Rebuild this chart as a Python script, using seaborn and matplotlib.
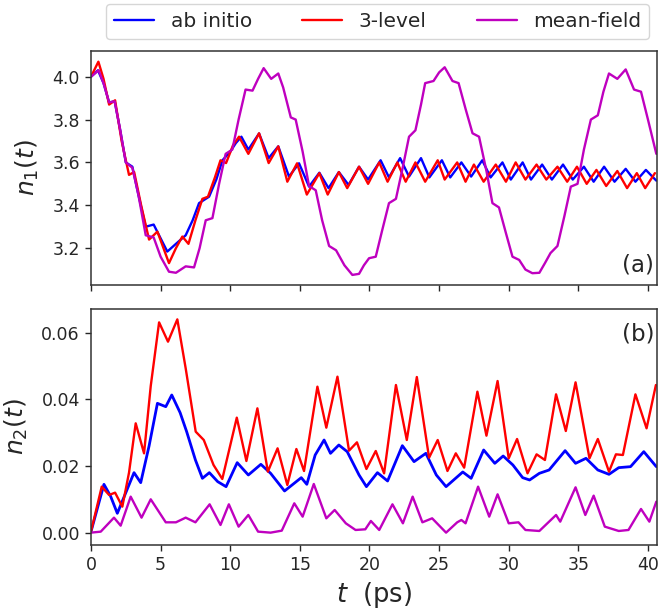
import matplotlib
matplotlib.use("Agg")
import matplotlib.pyplot as plt
import seaborn as sns

# ---- n1(t): ground-state population ----
t_n1_ab = [0.0, 0.5, 0.9, 1.3, 1.7, 2.1, 2.5, 2.97, 3.4, 3.93, 4.5, 5.48, 6.1, 6.8, 7.3,
           7.76, 8.48, 9.0, 9.44, 10.0, 10.4, 10.8, 11.3, 12.07, 12.76, 13.45, 14.22, 14.94,
           15.66, 16.4, 17.06, 17.8, 18.5, 19.25, 19.9, 20.8, 21.4, 22.2, 22.84, 23.7, 24.3,
           25.2, 25.8, 26.6, 27.3, 28.1, 28.7, 29.55, 30.15, 31.0, 31.6, 32.4, 33.1, 33.9,
           34.6, 35.4, 36.1, 36.85, 37.6, 38.4, 39.1, 39.85, 40.6]
n1_ab = [4.00, 4.03, 3.97, 3.88, 3.885, 3.75, 3.60, 3.58, 3.45, 3.30, 3.31, 3.184, 3.22, 3.26,
         3.33, 3.41, 3.44, 3.52, 3.61, 3.65, 3.69, 3.72, 3.66, 3.735, 3.62, 3.675, 3.534, 3.596,
         3.487, 3.552, 3.48, 3.555, 3.495, 3.58, 3.52, 3.61, 3.53, 3.62, 3.534, 3.62, 3.53,
         3.61, 3.53, 3.60, 3.534, 3.61, 3.53, 3.60, 3.52, 3.60, 3.52, 3.59, 3.52, 3.59,
         3.52, 3.58, 3.51, 3.58, 3.51, 3.57, 3.51, 3.565, 3.515]

t_n1_3l = [0.0, 0.53, 0.9, 1.3, 1.73, 2.2, 2.73, 3.1, 3.6, 4.17, 4.77, 5.6, 6.1, 6.56, 7.0,
           7.5, 8.0, 8.4, 8.9, 9.3, 9.7, 10.2, 10.63, 11.3, 12.07, 12.76, 13.45, 14.1, 14.8,
           15.5, 16.4, 17.0, 17.8, 18.4, 19.25, 19.9, 20.7, 21.3, 22.0, 22.6, 23.3, 24.0,
           24.9, 25.4, 26.3, 26.9, 27.5, 28.2, 29.07, 29.8, 30.5, 31.2, 32.0, 32.7, 33.5,
           34.2, 34.9, 35.6, 36.3, 37.0, 37.8, 38.5, 39.2, 39.8, 40.5]
n1_3l = [4.00, 4.07, 3.99, 3.87, 3.89, 3.70, 3.542, 3.555, 3.40, 3.24, 3.277, 3.13, 3.20, 3.254,
         3.22, 3.33, 3.43, 3.44, 3.53, 3.61, 3.597, 3.68, 3.72, 3.64, 3.736, 3.597, 3.675,
         3.51, 3.596, 3.45, 3.55, 3.45, 3.555, 3.48, 3.58, 3.50, 3.60, 3.51, 3.60, 3.51,
         3.60, 3.51, 3.61, 3.52, 3.60, 3.51, 3.59, 3.51, 3.59, 3.51, 3.60, 3.52, 3.59, 3.52,
         3.58, 3.51, 3.58, 3.50, 3.565, 3.49, 3.56, 3.48, 3.55, 3.48, 3.55]

t_n1_mf = [0.0, 0.55, 0.9, 1.3, 1.7, 2.1, 2.5, 2.97, 3.4, 3.93, 4.5, 5.0, 5.6, 6.1, 6.8, 7.4,
           7.8, 8.24, 8.72, 9.2, 9.67, 10.15, 10.6, 11.1, 11.6, 12.0, 12.4, 12.94, 13.45, 13.8,
           14.35, 14.7, 15.2, 15.66, 16.14, 16.6, 17.1, 17.6, 18.2, 18.77, 19.25, 19.6, 19.97,
           20.45, 20.9, 21.4, 21.9, 22.4, 22.84, 23.3, 23.7, 24.0, 24.6, 25.0, 25.4, 25.96,
           26.4, 26.9, 27.4, 27.87, 28.4, 28.83, 29.3, 29.8, 30.27, 30.75, 31.2, 31.7, 32.2,
           32.6, 33.0, 33.5, 34.0, 34.46, 34.94, 35.4, 35.9, 36.4, 36.8, 37.2, 37.8, 38.4,
           39.0, 39.5, 40.0, 40.6]
n1_mf = [4.00, 4.03, 3.97, 3.88, 3.885, 3.75, 3.60, 3.575, 3.45, 3.26, 3.25, 3.16, 3.09, 3.085,
         3.115, 3.11, 3.20, 3.33, 3.34, 3.50, 3.64, 3.66, 3.80, 3.94, 3.935, 3.99, 4.04, 3.99,
         4.015, 3.95, 3.81, 3.80, 3.65, 3.49, 3.47, 3.33, 3.21, 3.19, 3.12, 3.075, 3.08, 3.12,
         3.153, 3.16, 3.28, 3.41, 3.43, 3.58, 3.72, 3.75, 3.87, 3.97, 3.98, 4.02, 4.044, 3.98,
         3.97, 3.85, 3.736, 3.72, 3.56, 3.41, 3.39, 3.27, 3.16, 3.145, 3.10, 3.083, 3.085,
         3.13, 3.177, 3.21, 3.35, 3.487, 3.50, 3.66, 3.80, 3.82, 3.93, 4.015, 3.99, 4.034,
         3.94, 3.93, 3.80, 3.64]

# ---- n2(t): excited-state population ----
t_n2_ab = [0.0, 0.93, 1.4, 1.89, 2.5, 3.09, 3.57, 4.17, 4.77, 5.37, 5.8, 6.4, 6.87, 7.5, 8.0,
           8.5, 9.1, 9.7, 10.5, 11.3, 12.2, 12.9, 13.9, 14.5, 15.1, 15.5, 16.1, 16.74, 17.2,
           17.8, 18.4, 19.25, 19.78, 20.57, 21.3, 22.36, 23.2, 24.05, 24.8, 25.5, 26.7, 27.3,
           28.2, 29.0, 29.6, 30.3, 31.0, 31.5, 32.2, 32.9, 34.05, 34.8, 35.55, 36.4, 37.2,
           37.9, 38.75, 39.7, 40.6]
n2_ab = [0.0003, 0.0145, 0.011, 0.0058, 0.012, 0.018, 0.015, 0.026, 0.0388, 0.0378, 0.0413,
         0.036, 0.0303, 0.0218, 0.0163, 0.018, 0.0153, 0.0138, 0.021, 0.0173, 0.0205, 0.0178,
         0.0125, 0.0145, 0.0165, 0.0145, 0.0233, 0.0278, 0.0238, 0.0263, 0.0243, 0.0173,
         0.0138, 0.018, 0.0155, 0.0261, 0.0213, 0.0238, 0.0173, 0.0138, 0.0182, 0.0163,
         0.0248, 0.0208, 0.023, 0.0203, 0.0165, 0.0158, 0.0178, 0.0188, 0.0246, 0.0208,
         0.0223, 0.0188, 0.0175, 0.0195, 0.0198, 0.0243, 0.0198]

t_n2_3l = [0.0, 0.77, 1.3, 1.73, 2.25, 2.73, 3.21, 3.81, 4.29, 4.89, 5.53, 6.2, 6.8, 7.52, 8.1,
           8.8, 9.43, 10.47, 11.16, 11.95, 12.7, 13.4, 14.1, 14.75, 15.3, 16.26, 16.9, 17.7,
           18.53, 19.1, 19.78, 20.45, 21.05, 21.9, 22.68, 23.4, 24.28, 24.9, 25.6, 26.2, 26.8,
           27.75, 28.4, 29.2, 30.0, 30.6, 31.35, 32.0, 32.6, 33.4, 34.1, 34.8, 35.8, 36.4,
           37.2, 37.7, 38.2, 39.1, 39.9, 40.57]
n2_3l = [0.0003, 0.0138, 0.0113, 0.012, 0.0078, 0.018, 0.0328, 0.0238, 0.044, 0.0631, 0.0573,
         0.064, 0.0493, 0.0303, 0.0278, 0.0203, 0.0161, 0.0345, 0.0215, 0.0373, 0.0183,
         0.0253, 0.0143, 0.0251, 0.0185, 0.0438, 0.0315, 0.0468, 0.0246, 0.0271, 0.0191,
         0.0245, 0.0178, 0.0443, 0.0278, 0.0467, 0.0225, 0.0278, 0.0185, 0.0238, 0.0195,
         0.0423, 0.0291, 0.0455, 0.0223, 0.0281, 0.0178, 0.0235, 0.0218, 0.0415, 0.0305,
         0.0451, 0.0223, 0.0281, 0.0183, 0.0235, 0.0233, 0.0415, 0.0313, 0.0443]

t_n2_mf = [0.0, 0.7, 1.65, 2.13, 2.85, 3.63, 4.29, 5.37, 6.1, 6.8, 7.5, 8.52, 9.3, 9.9, 10.6,
           11.3, 12.0, 12.9, 13.7, 14.6, 15.2, 16.0, 16.9, 17.5, 18.3, 19.0, 19.7, 20.1, 20.7,
           21.65, 22.4, 23.1, 23.8, 24.5, 25.5, 26.3, 26.6, 26.9, 27.8, 28.6, 29.2, 30.0, 30.7,
           31.2, 32.2, 33.4, 33.7, 34.8, 35.5, 36.1, 36.9, 37.9, 38.6, 39.5, 40.1, 40.6]
n2_mf = [0.0, 0.0003, 0.0045, 0.0021, 0.0108, 0.0045, 0.010, 0.0031, 0.0031, 0.0045, 0.0031,
         0.0085, 0.0023, 0.0085, 0.0018, 0.0053, 0.0003, 0.0, 0.0006, 0.0088, 0.0048, 0.0146,
         0.0043, 0.0068, 0.0028, 0.0008, 0.001, 0.0035, 0.0008, 0.0085, 0.0028, 0.0108,
         0.0031, 0.0043, 0.0, 0.0031, 0.0038, 0.0028, 0.0138, 0.0048, 0.0115, 0.0028, 0.0031,
         0.0008, 0.0005, 0.0053, 0.0033, 0.0136, 0.0053, 0.0111, 0.0018, 0.0005, 0.0008,
         0.0071, 0.0033, 0.0093]

labels = ["ab initio", "3-level", "mean-field"]
colors = ["#0000ff", "#ff0000", "#bf00bf"]
x_ticks = [0, 5, 10, 15, 20, 25, 30, 35, 40]
n1_ticks = [3.2, 3.4, 3.6, 3.8, 4.0]
n2_ticks = [0.00, 0.02, 0.04, 0.06]

sns.set_style("ticks")
plt.rcParams["font.family"] = ["DejaVu Sans"]
plt.rcParams["mathtext.fontset"] = "dejavusans"

fig = plt.figure(figsize=(6.58, 6.10), dpi=100)
ax1 = fig.add_axes([0.1383, 0.5328, 0.8602, 0.3836])
ax2 = fig.add_axes([0.1383, 0.1066, 0.8602, 0.3868])

top = [(t_n1_ab, n1_ab), (t_n1_3l, n1_3l), (t_n1_mf, n1_mf)]
bottom = [(t_n2_ab, n2_ab), (t_n2_3l, n2_3l), (t_n2_mf, n2_mf)]

for (tx, ty), lab, c in zip(top, labels, colors):
    sns.lineplot(x=tx, y=ty, ax=ax1, color=c, linewidth=1.7, label=lab, legend=False)
for i, ((tx, ty), lab, c) in enumerate(zip(bottom, labels, colors)):
    sns.lineplot(x=tx, y=ty, ax=ax2, color=c, linewidth=2.0 if i == 0 else 1.7,
                 legend=False)

for ax in (ax1, ax2):
    for ln in ax.get_lines():
        ln.set_solid_joinstyle("round")
        ln.set_solid_capstyle("round")
    ax.set_xlim(0, 40.65)
    ax.set_xticks(x_ticks)
    ax.tick_params(axis="both", labelsize=12.5, length=4.5, width=1.0, direction="out")
    for s in ax.spines.values():
        s.set_linewidth(1.1)
        s.set_color("#333333")

ax1.set_ylim(3.028, 4.12)
ax1.set_yticks(n1_ticks)
ax1.set_xticklabels([])
ax1.set_ylabel("$n_1(t)$", fontsize=18, labelpad=8)
ax1.text(0.995, 0.085, "(a)", transform=ax1.transAxes, ha="right", va="center", fontsize=16.5)

ax2.set_ylim(-0.0037, 0.0671)
ax2.set_yticks(n2_ticks)
ax2.set_yticklabels([f"{v:.2f}" for v in n2_ticks])
ax2.set_ylabel("$n_2(t)$", fontsize=18, labelpad=8)
ax2.set_xlabel("$t$  (ps)", fontsize=18.5, labelpad=4)
ax2.text(0.995, 0.895, "(b)", transform=ax2.transAxes, ha="right", va="center", fontsize=16.5)

handles = ax1.get_lines()[:3]
fig.legend(handles, labels, loc="upper center", bbox_to_anchor=(0.574, 1.0095), ncol=3,
           fontsize=14.5, frameon=True, fancybox=True, edgecolor="#cccccc",
           handlelength=2.0, columnspacing=2.5, borderpad=0.4)

fig.savefig("out.png", dpi=100)
